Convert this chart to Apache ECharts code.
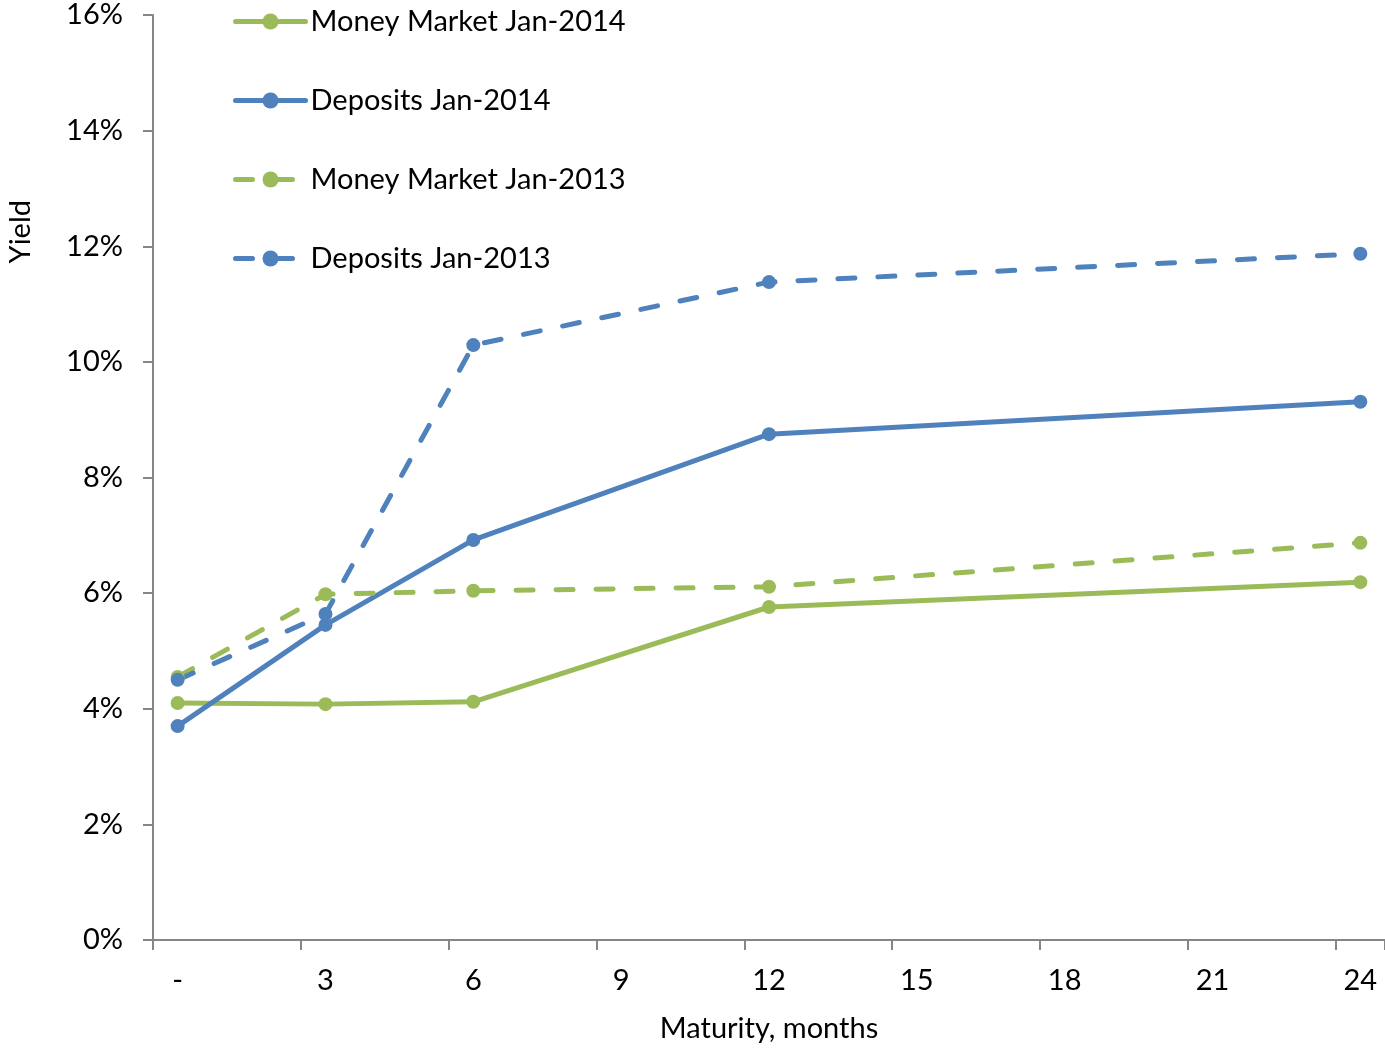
<!DOCTYPE html>
<html>
<head>
<meta charset="utf-8">
<script src="https://cdn.jsdelivr.net/npm/echarts@6/dist/echarts.min.js"></script>
<style>
  html, body { margin: 0; padding: 0; background: #fff; }
  #chart { width: 1385px; height: 1052px; }
</style>
</head>
<body>
<div id="chart"></div>
<script>
// Maturity buckets in months (0 shown as "-")
const months = Array.from({ length: 25 }, (_, i) => (i === 0 ? '-' : String(i)));

// Maturities with observed yields
const maturities = ['-', '3', '6', '12', '24'];

// Yields, %
const moneyMarket2014 = [4.10, 4.08, 4.12, 5.76, 6.19];
const deposits2014    = [3.70, 5.45, 6.92, 8.75, 9.31];
const moneyMarket2013 = [4.55, 5.98, 6.04, 6.11, 6.87];
const deposits2013    = [4.50, 5.64, 10.29, 11.38, 11.87];

const GREEN = '#9BBB59';
const BLUE = '#4F81BD';
const AXIS = '#868686';
const FONT = 'Lato';
const FS = 29;

function pairs(values) {
  return maturities.map((m, i) => [m, values[i]]);
}

function lineSeries(name, values, color, dashed) {
  return {
    name: name,
    type: 'line',
    data: pairs(values),
    symbol: 'circle',
    symbolSize: 14,
    showSymbol: true,
    connectNulls: true,
    itemStyle: { color: color },
    lineStyle: {
      color: color,
      width: 5,
      type: dashed ? [17, 23] : 'solid',
      cap: 'round'
    },
    emphasis: { disabled: true },
    animation: false
  };
}

const chart = echarts.init(document.getElementById('chart'));
chart.setOption({
  backgroundColor: '#fff',
  animation: false,
  textStyle: { fontFamily: FONT, color: '#000' },
  grid: { left: 153, right: 0, top: 15, bottom: 112, containLabel: false, outerBoundsMode: 'none' },
  legend: {
    orient: 'vertical',
    left: 233,
    top: 7,
    padding: 0,
    itemWidth: 70,
    itemHeight: 20,
    itemGap: 50,
    lineStyle: { width: 5 },
    textStyle: { fontFamily: FONT, fontSize: FS, color: '#000', padding: [0, 0, 0, 0] },
    data: ['Money Market Jan-2014', 'Deposits Jan-2014', 'Money Market Jan-2013', 'Deposits Jan-2013']
  },
  xAxis: {
    type: 'category',
    data: months,
    boundaryGap: true,
    name: 'Maturity, months',
    nameLocation: 'middle',
    nameGap: 74,
    nameTextStyle: { fontFamily: FONT, fontSize: FS, color: '#000' },
    axisLine: { lineStyle: { color: AXIS, width: 2 } },
    axisTick: { show: true, interval: 2, length: 10, lineStyle: { color: AXIS, width: 2 } },
    axisLabel: { interval: 2, margin: 26, fontFamily: FONT, fontSize: FS, color: '#000' },
    splitLine: { show: false }
  },
  yAxis: {
    type: 'value',
    min: 0,
    max: 16,
    interval: 2,
    axisLine: { show: true, lineStyle: { color: AXIS, width: 2 } },
    axisTick: { show: true, length: 10, lineStyle: { color: AXIS, width: 2 } },
    axisLabel: { formatter: '{value}%', margin: 30, fontFamily: FONT, fontSize: FS, color: '#000' },
    splitLine: { show: false }
  },
  graphic: [{
    type: 'text',
    left: 6,
    top: 200,
    rotation: Math.PI / 2,
    style: { text: 'Yield', fontFamily: FONT, fontSize: FS, fill: '#000' }
  }],
  series: [
    lineSeries('Money Market Jan-2014', moneyMarket2014, GREEN, false),
    lineSeries('Deposits Jan-2014', deposits2014, BLUE, false),
    lineSeries('Money Market Jan-2013', moneyMarket2013, GREEN, true),
    lineSeries('Deposits Jan-2013', deposits2013, BLUE, true)
  ]
});
</script>
</body>
</html>
